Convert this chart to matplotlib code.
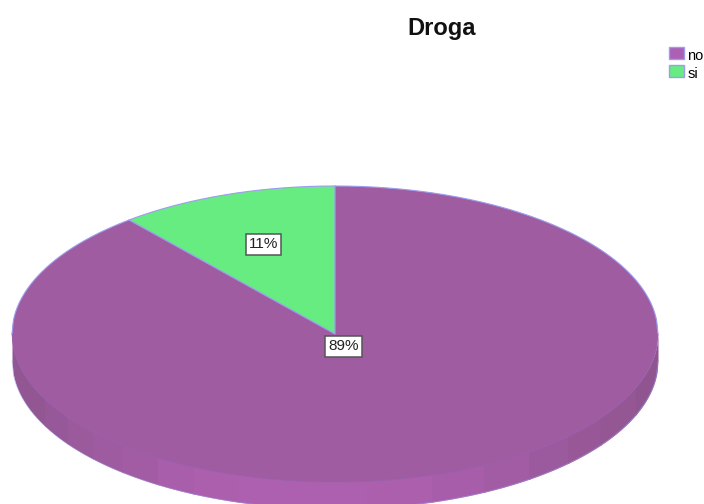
import numpy as np
import matplotlib
matplotlib.use("Agg")
import matplotlib.pyplot as plt

title = "Droga"
categories = ["no", "si"]
values = [89, 11]
colors = ["#A05CA0", "#66EC80"]
edge_color = "#9C9CF0"
side_band_edges = [-1.0, -0.9, -0.83, -0.75, -0.66, -0.55, -0.44, -0.3, -0.1, 0.1, 0.3, 0.46, 0.6, 0.72, 0.82, 0.93, 1.0]
side_band_colors = ["#925692", "#965898", "#9A5A9C", "#9E5BA0", "#A25CA4", "#A85EAA", "#AB5FAD", "#AE60B0",
                    "#AE60B0", "#AB5FAD", "#A75DA9", "#A25CA4", "#9C5A9E", "#985898", "#945794", "#905590"]

W, H = 704, 504
cx, cy, rx, ry, depth = 335, 334, 323, 148, 27

fig = plt.figure(figsize=(W / 100, H / 100), dpi=100, facecolor="white")
ax = fig.add_axes([0, 0, 1, 1])
plt.rcParams["font.family"] = ["Liberation Sans", "DejaVu Sans"]

px = lambda x: (x - cx) / rx
py = lambda y: (cy - y) / ry
d = depth / ry

# side wall of the disc
for i, col in enumerate(side_band_colors):
    x = np.linspace(side_band_edges[i], min(side_band_edges[i + 1] + 0.004, 1.0), 30)
    y = -np.sqrt(np.clip(1 - x ** 2, 0, 1))
    ax.fill_between(x, y - d, y + 0.01, color=col, lw=0, zorder=1)
xs = np.linspace(-1, 1, 400)
ax.plot(xs, -np.sqrt(1 - xs ** 2) - d, color=edge_color, lw=0.5, alpha=0.6, zorder=1.5)

wedges, _ = ax.pie(values, colors=colors, startangle=90, counterclock=False, radius=1,
                   wedgeprops=dict(edgecolor="none", linewidth=0, zorder=2))

# thin outline: bright on the back half of the disc, faint on the front
ax.plot(xs, np.sqrt(1 - xs ** 2), color=edge_color, lw=0.8, zorder=3)
ax.plot(xs, -np.sqrt(1 - xs ** 2), color="#9A60B0", lw=0.6, zorder=3)
for w in wedges[1:]:
    th = np.deg2rad([w.theta1, w.theta2])
    ax.plot([np.cos(th[0]), 0, np.cos(th[1])], [np.sin(th[0]), 0, np.sin(th[1])], color=edge_color, lw=0.9, zorder=3)

ax.set_aspect("auto")
ax.set_xlim(px(0), px(W))
ax.set_ylim(py(H), py(0))
ax.axis("off")

box = dict(boxstyle="square,pad=0.2", facecolor="white", edgecolor="#555555", linewidth=1.1)
label_pos = [(343.5, 346.5), (263.5, 244.5)]
for v, (lx, ly) in zip(values, label_pos):
    ax.text(px(lx), py(ly), f"{v}%", ha="center", va="center", fontsize=11, color="#222222", bbox=box, zorder=5)

fig.text(442 / W, 1 - 28 / H, title, ha="center", va="center", fontsize=17, fontweight="bold", color="#111111")

leg = ax.legend(wedges, categories, loc="upper left", bbox_to_anchor=(666 / W, 1 - 44 / H),
                bbox_transform=fig.transFigure, frameon=False, fontsize=10.5, handlelength=1.0, handleheight=0.95,
                handletextpad=0.25, labelspacing=0.25, borderpad=0.2, borderaxespad=0)
for h, c in zip(leg.get_patches(), colors):
    h.set_edgecolor(edge_color)
    h.set_linewidth(1.0)
leg.get_patches()[0].set_facecolor("#AC60B4")
for t in leg.get_texts():
    t.set_y(-2)
fig.savefig("out.png", dpi=100, facecolor="white")
